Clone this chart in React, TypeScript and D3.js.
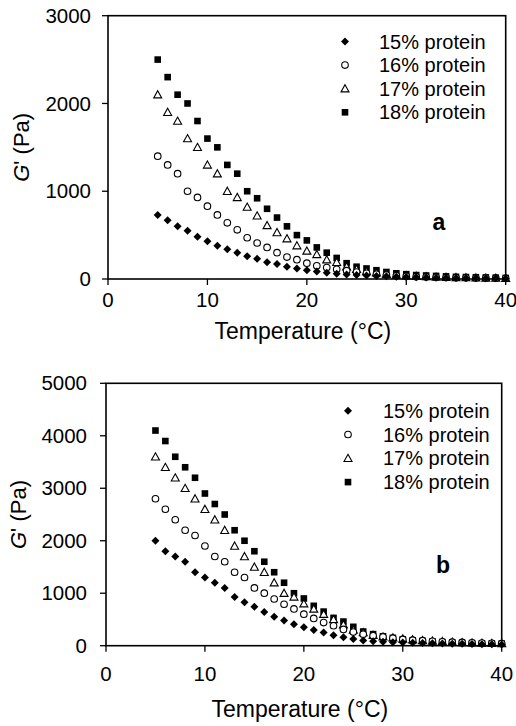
import React from "react";
import * as d3 from "d3";

const temps = [5,6,7,8,9,10,11,12,13,14,15,16,17,18,19,20,21,22,23,24,25,26,27,28,29,30,31,32,33,34,35,36,37,38,39,40];

const a15 = [730,670,600,550,480,430,380,340,300,260,230,190,170,140,120,100,85,70,60,50,45,40,35,30,26,22,19,17,15,13,12,11,10,9,8,7];
const a16 = [1400,1300,1200,1000,930,830,730,640,560,470,410,360,300,250,220,180,150,130,110,95,80,65,55,45,38,32,27,23,20,17,15,13,11,10,9,8];
const a17 = [2100,1900,1800,1600,1500,1300,1200,1000,930,820,720,610,530,460,380,320,280,220,190,140,110,85,70,55,45,38,32,28,24,20,18,16,14,12,10,9];
const a18 = [2500,2300,2100,2000,1800,1600,1500,1300,1200,1000,920,800,700,600,500,440,360,300,240,180,140,120,100,80,65,55,45,40,35,30,25,22,20,18,15,12];

const b15 = [2000,1800,1700,1600,1400,1300,1200,1100,930,830,740,640,550,480,410,350,300,250,200,160,130,100,85,75,65,60,55,50,45,40,38,35,32,30,28,25];
const b16 = [2800,2600,2400,2200,2100,1900,1700,1600,1400,1300,1100,1000,890,790,700,600,520,440,380,310,260,220,190,165,140,120,105,95,85,75,68,62,56,50,45,40];
const b17 = [3600,3400,3200,3000,2800,2600,2400,2200,1900,1700,1500,1400,1200,1000,930,800,700,600,500,400,300,250,200,170,150,130,115,100,90,80,70,60,55,50,45,40];
const b18 = [4100,3900,3600,3400,3200,2900,2700,2500,2200,2000,1800,1600,1400,1200,1000,900,760,650,530,460,360,270,220,180,150,120,100,90,80,70,60,55,50,45,42,40];

const seriesNames = ["15% protein", "16% protein", "17% protein", "18% protein"];
const markerTypes = ["diamond", "circle", "triangle", "square"];
const xTicks = [0, 10, 20, 30, 40];
const yTicksA = [0, 1000, 2000, 3000];
const yTicksB = [0, 1000, 2000, 3000, 4000, 5000];

const FONT = "'Liberation Sans', Arial, sans-serif";

function Marker({ type, x, y }: { type: string; x: number; y: number }) {
  if (type === "diamond") {
    const r = 4;
    return <path d={`M${x},${y - r}L${x + r},${y}L${x},${y + r}L${x - r},${y}Z`} fill="#000" />;
  }
  if (type === "circle") {
    return <circle cx={x} cy={y} r={3.3} fill="#fff" stroke="#000" strokeWidth={1.1} />;
  }
  if (type === "triangle") {
    const h = 3.6;
    return (
      <path
        d={`M${x},${y - h - 0.4}L${x + 4},${y + h - 0.4}L${x - 4},${y + h - 0.4}Z`}
        fill="#fff"
        stroke="#000"
        strokeWidth={1.1}
        strokeLinejoin="miter"
      />
    );
  }
  const s = 3.3;
  return <rect x={x - s} y={y - s} width={2 * s} height={2 * s} fill="#000" />;
}

type PanelProps = {
  left: number;
  right: number;
  top: number;
  bottom: number;
  yMax: number;
  yTicks: number[];
  series: number[][];
  letter: string;
  letterX: number;
  letterY: number;
  legendMarkerX: number;
  legendTextX: number;
  legendY0: number;
  legendDy: number;
  yTitleX: number;
  xLabelY: number;
  xTitleY: number;
  yLabelRight: number;
};

function Panel(p: PanelProps) {
  const x = d3.scaleLinear().domain([0, 40]).range([p.left, p.right]);
  const y = d3.scaleLinear().domain([0, p.yMax]).range([p.bottom, p.top]);
  const order = [3, 2, 1, 0];
  return (
    <g>
      {order.map((si) => (
        <g key={si}>
          {temps.map((t, i) => (
            <Marker key={i} type={markerTypes[si]} x={x(t)} y={y(p.series[si][i])} />
          ))}
        </g>
      ))}
      <rect
        x={p.left}
        y={p.top}
        width={p.right - p.left}
        height={p.bottom - p.top}
        fill="none"
        stroke="#000"
        strokeWidth={1.6}
      />
      {p.yTicks.map((v) => (
        <g key={v}>
          <line x1={p.left - 6} x2={p.left} y1={y(v)} y2={y(v)} stroke="#000" strokeWidth={1.3} />
          <text
            x={p.yLabelRight}
            y={y(v)}
            dy="0.35em"
            textAnchor="end"
            fontSize={20.5}
            fontFamily={FONT}
            fill="#000"
          >
            {v}
          </text>
        </g>
      ))}
      {xTicks.map((v) => (
        <g key={v}>
          <line x1={x(v)} x2={x(v)} y1={p.bottom} y2={p.bottom + 6} stroke="#000" strokeWidth={1.3} />
          <text x={x(v)} y={p.xLabelY} textAnchor="middle" fontSize={20.5} fontFamily={FONT} fill="#000">
            {v}
          </text>
        </g>
      ))}
      <text
        x={(p.left + p.right) / 2 - 4}
        y={p.xTitleY}
        textAnchor="middle"
        fontSize={23}
        fontFamily={FONT}
        fill="#000"
      >
        Temperature (°C)
      </text>
      <text
        transform={`translate(${p.yTitleX},${(p.top + p.bottom) / 2}) rotate(-90)`}
        textAnchor="middle"
        dy="0.35em"
        fontSize={22}
        fontFamily={FONT}
        fill="#000"
      >
        <tspan fontStyle="italic">G</tspan>' (Pa)
      </text>
      {seriesNames.map((name, i) => (
        <g key={name}>
          <Marker type={markerTypes[i]} x={p.legendMarkerX} y={p.legendY0 + i * p.legendDy} />
          <text
            x={p.legendTextX}
            y={p.legendY0 + i * p.legendDy}
            dy="0.35em"
            fontSize={20}
            fontFamily={FONT}
            fill="#000"
          >
            {name}
          </text>
        </g>
      ))}
      <text x={p.letterX} y={p.letterY} textAnchor="middle" fontSize={23} fontWeight="bold" fontFamily={FONT} fill="#000">
        {p.letter}
      </text>
    </g>
  );
}

export default function App() {
  return (
    <svg
      width={516}
      height={726}
      style={{ position: "absolute", left: 0, top: 0, background: "#fff" }}
    >
      <rect x={0} y={0} width={516} height={726} fill="#fff" />
      <Panel
        left={108}
        right={505.7}
        top={15.7}
        bottom={279}
        yMax={3000}
        yTicks={yTicksA}
        series={[a15, a16, a17, a18]}
        letter="a"
        letterX={439}
        letterY={230}
        legendMarkerX={345}
        legendTextX={379}
        legendY0={41.5}
        legendDy={23.6}
        yTitleX={21}
        xLabelY={307}
        xTitleY={339}
        yLabelRight={91}
      />
      <Panel
        left={106}
        right={501.7}
        top={383.3}
        bottom={645.7}
        yMax={5000}
        yTicks={yTicksB}
        series={[b15, b16, b17, b18]}
        letter="b"
        letterX={443}
        letterY={573}
        legendMarkerX={348}
        legendTextX={383}
        legendY0={410.7}
        legendDy={23.8}
        yTitleX={18}
        xLabelY={681}
        xTitleY={717}
        yLabelRight={87}
      />
    </svg>
  );
}
